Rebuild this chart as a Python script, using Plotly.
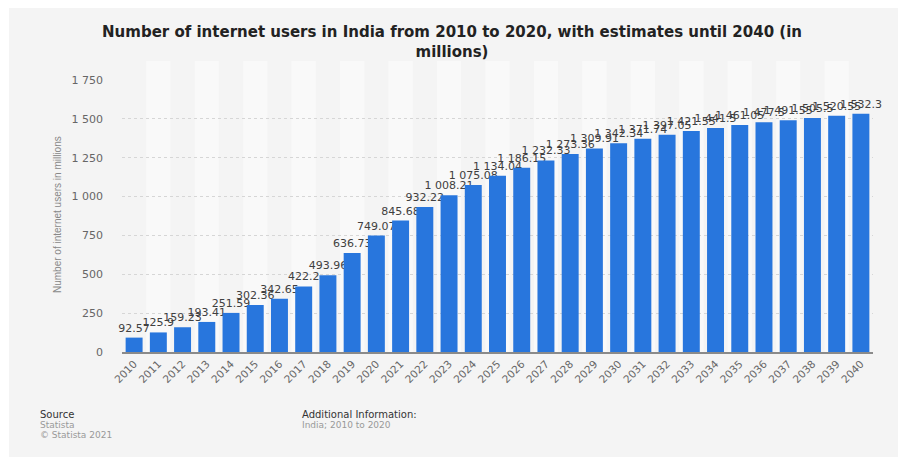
import plotly.graph_objects as go

years = [str(y) for y in range(2010, 2041)]
users = [92.57, 125.9, 159.23, 193.41, 251.59, 302.36, 342.65, 422.2, 493.96, 636.73,
         749.07, 845.68, 932.22, 1008.21, 1075.08, 1134.04, 1186.15, 1232.33, 1273.36,
         1309.91, 1342.34, 1371.74, 1397.05, 1421.55, 1441.5, 1461.05, 1477.5, 1491.55,
         1505.5, 1520.55, 1532.3]
y_ticks = [0, 250, 500, 750, 1000, 1250, 1500, 1750]
title_text = "Number of internet users in India from 2010 to 2020, with estimates until 2040 (in<br>millions)"
y_title = "Number of internet users in millions"


def fmt(v):
    s = f"{v:,.2f}".rstrip("0").rstrip(".")
    return s.replace(",", " ")


labels = [fmt(v) for v in users]

W, H = 898, 459
ML, MR, MT, MB = 122, 25, 80, 107
PW, PH = W - ML - MR, H - MT - MB
FONT = "DejaVu Sans, Verdana, sans-serif"

fig = go.Figure()
fig.add_trace(go.Bar(
    x=years, y=users, text=labels, textposition="outside", constraintext="none",
    textfont=dict(family=FONT, size=11, color="#404040"),
    marker=dict(color="#2876dd", line=dict(width=0)),
    width=0.7, cliponaxis=False, hoverinfo="x+y",
))

shapes = [dict(type="rect", xref="paper", yref="paper",
               x0=(9 - ML) / PW, x1=(W - ML) / PW,
               y0=-(H - 2 - (MT + PH)) / PH, y1=(H - 8 - MB) / PH,
               fillcolor="#f4f4f4", line=dict(width=0), layer="below")]
for i in range(len(years)):
    if i % 2 == 1:
        shapes.append(dict(type="rect", xref="x", yref="paper", x0=i - 0.5, x1=i + 0.5,
                           y0=0, y1=1.07, fillcolor="#f9f9f9", line=dict(width=0), layer="below"))


def py(px):
    return (MT + PH - px) / PH


annotations = [
    dict(text=y_title, xref="paper", yref="paper", x=(57 - ML) / PW, y=py(215),
         textangle=-90, showarrow=False, xanchor="center", yanchor="middle",
         font=dict(family="Liberation Sans Narrow, Liberation Sans, Arial", size=10, color="#888888")),
    dict(text="Source", xref="paper", yref="paper", x=(38 - ML) / PW, y=py(414),
         showarrow=False, xanchor="left", yanchor="middle",
         font=dict(family=FONT, size=10, color="#333333")),
    dict(text="Statista", xref="paper", yref="paper", x=(38 - ML) / PW, y=py(425),
         showarrow=False, xanchor="left", yanchor="middle",
         font=dict(family=FONT, size=9, color="#999999")),
    dict(text="© Statista 2021", xref="paper", yref="paper", x=(38 - ML) / PW, y=py(435),
         showarrow=False, xanchor="left", yanchor="middle",
         font=dict(family=FONT, size=9, color="#999999")),
    dict(text="Additional Information:", xref="paper", yref="paper", x=(300 - ML) / PW, y=py(414),
         showarrow=False, xanchor="left", yanchor="middle",
         font=dict(family=FONT, size=10, color="#333333")),
    dict(text="India; 2010 to 2020", xref="paper", yref="paper", x=(300 - ML) / PW, y=py(425),
         showarrow=False, xanchor="left", yanchor="middle",
         font=dict(family=FONT, size=9, color="#999999")),
]

fig.update_layout(
    width=W, height=H,
    margin=dict(l=ML, r=MR, t=MT, b=MB, pad=0),
    paper_bgcolor="white", plot_bgcolor="rgba(0,0,0,0)",
    separators=". ",
    title=dict(text=title_text, x=452 / W, xref="container", xanchor="center", y=1 - 37 / H, yanchor="middle",
               font=dict(family=FONT, size=15, color="#222222", weight="bold")),
    showlegend=False,
    bargap=0.3,
    shapes=shapes,
    annotations=annotations,
    xaxis=dict(type="category", tickangle=-45, showgrid=False, showline=True,
               linecolor="#8a8a8a", linewidth=1.5, ticks="",
               tickfont=dict(family=FONT, size=10.5, color="#666666")),
    yaxis=dict(range=[0, 1750], tickvals=y_ticks, tickformat=",", showgrid=True,
               gridcolor="#d6d6d6", griddash="dot", gridwidth=1, zeroline=False,
               ticklabelstandoff=18,
               tickfont=dict(family=FONT, size=11, color="#666666")),
)

fig.write_html("out.html")
